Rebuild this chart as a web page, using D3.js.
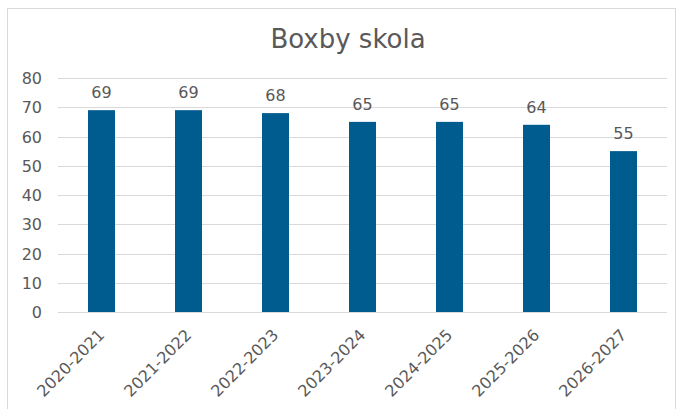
<!DOCTYPE html>
<html>
<head>
<meta charset="utf-8">
<script src="https://cdn.jsdelivr.net/npm/d3@7"></script>
<style>
  html, body { margin: 0; padding: 0; background: #fff; }
  svg { display: block; }
  text { font-family: "DejaVu Sans", Verdana, sans-serif; fill: #595959; }
</style>
</head>
<body>
<svg id="chart" width="678" height="409"></svg>
<script>
const categories = ["2020-2021", "2021-2022", "2022-2023", "2023-2024", "2024-2025", "2025-2026", "2026-2027"];
const values = [69, 69, 68, 65, 65, 64, 55];
const yTicks = [0, 10, 20, 30, 40, 50, 60, 70, 80];
const title = "Boxby skola";

const W = 678, H = 409;
const margin = { left: 58, right: 11, top: 78, bottom: 97 };
const svg = d3.select("#chart");
const font = '"DejaVu Sans", Verdana, sans-serif';

// chart frame
svg.append("rect")
  .attr("x", 7.5).attr("y", 8.5)
  .attr("width", 668).attr("height", 410)
  .attr("fill", "#fff").attr("stroke", "#d9d9d9").attr("stroke-width", 1);

const x = d3.scaleBand()
  .domain(categories)
  .range([margin.left, W - margin.right])
  .paddingInner(0.69).paddingOuter(0.345);

const y = d3.scaleLinear()
  .domain([0, 80])
  .range([H - margin.bottom, margin.top]);

// gridlines
svg.append("g")
  .selectAll("line")
  .data(yTicks)
  .join("line")
  .attr("x1", margin.left).attr("x2", W - margin.right)
  .attr("y1", d => Math.round(y(d)) + 0.5).attr("y2", d => Math.round(y(d)) + 0.5)
  .attr("stroke", "#d9d9d9").attr("stroke-width", 1);

// y axis labels
const yAxis = d3.axisLeft(y).tickValues(yTicks).tickSize(0).tickPadding(0);
svg.append("g")
  .attr("transform", `translate(${margin.left - 16},0)`)
  .call(yAxis)
  .call(g => g.select(".domain").remove())
  .call(g => g.selectAll("text")
    .style("font-family", font)
    .style("font-size", "16px").attr("fill", "#595959").attr("dy", "0.35em"));

// bars
svg.append("g")
  .selectAll("rect")
  .data(values)
  .join("rect")
  .attr("x", (d, i) => x(categories[i]))
  .attr("width", x.bandwidth())
  .attr("y", d => y(d))
  .attr("height", d => y(0) - y(d))
  .attr("fill", "#005b8f");

// value labels
svg.append("g")
  .selectAll("text")
  .data(values)
  .join("text")
  .attr("x", (d, i) => x(categories[i]) + x.bandwidth() / 2)
  .attr("y", d => y(d) - 12)
  .attr("text-anchor", "middle")
  .style("font-size", "16px")
  .text(d => d);

// x axis labels, rotated
const xAxis = d3.axisBottom(x).tickSize(0).tickPadding(0);
svg.append("g")
  .attr("transform", `translate(0,${y(0)})`)
  .call(xAxis)
  .call(g => g.select(".domain").remove())
  .call(g => g.selectAll("text")
    .style("font-family", font)
    .style("font-size", "16px").attr("fill", "#595959")
    .attr("text-anchor", "end")
    .attr("dy", "0.35em")
    .attr("transform", "translate(0,20) rotate(-45)"));

// title
svg.append("text")
  .attr("x", 348).attr("y", 48)
  .attr("text-anchor", "middle")
  .style("font-size", "26px")
  .text(title);
</script>
</body>
</html>
